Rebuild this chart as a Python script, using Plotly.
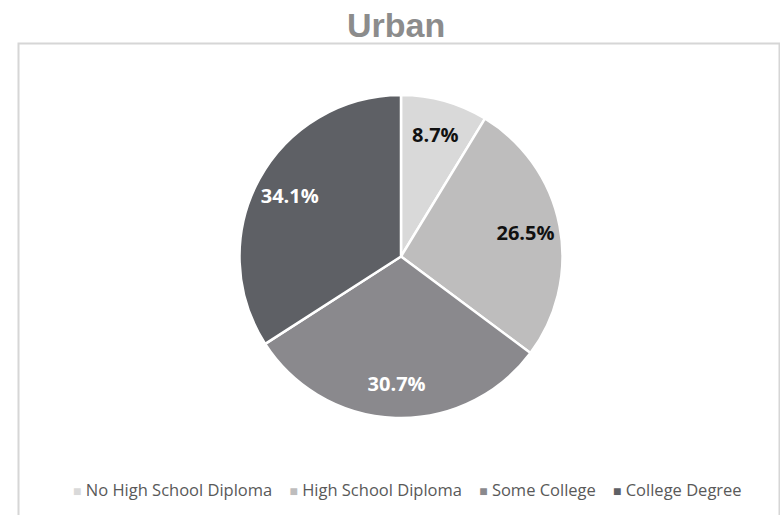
import plotly.graph_objects as go

# Education level shares, urban respondents
categories = ["No High School Diploma", "High School Diploma", "Some College", "College Degree"]
shares = [8.7, 26.5, 30.7, 34.1]
slice_colors = ["#d9d9d9", "#bebdbd", "#8a898d", "#5e6065"]
label_colors = ["#111111", "#111111", "#ffffff", "#ffffff"]

W, H = 780, 515
pie_domain = dict(x=[239 / W, 563 / W], y=[(H - 418) / H, (H - 95) / H])

fig = go.Figure()

# Filled slices
fig.add_trace(go.Pie(
    labels=categories,
    values=shares,
    sort=False,
    direction="clockwise",
    rotation=0,
    marker=dict(colors=slice_colors, line=dict(color="#ffffff", width=2.5)),
    textinfo="none",
    hoverinfo="label+percent",
    showlegend=False,
    domain=pie_domain,
))

# Same slices as a transparent ring, so the value labels sit toward the rim
fig.add_trace(go.Pie(
    labels=categories,
    values=shares,
    sort=False,
    direction="clockwise",
    rotation=0,
    hole=0.57,
    marker=dict(colors=["rgba(0,0,0,0)"] * len(shares), line=dict(width=0)),
    texttemplate="%{value:.1f}%",
    textposition="inside",
    insidetextorientation="horizontal",
    insidetextfont=dict(family="Open Sans", size=20, color=label_colors, weight="bold"),
    hoverinfo="skip",
    showlegend=False,
    domain=pie_domain,
))

# One-line legend: small swatch followed by the category name
gap = "\u00a0" * 4
legend_text = gap.join(
    f"<span style='color:{c};font-size:14px'>\u25a0</span>\u00a0{name}"
    for name, c in zip(categories, slice_colors)
)

fig.update_layout(
    width=W, height=H,
    margin=dict(l=0, r=0, t=0, b=0),
    paper_bgcolor="#ffffff",
    plot_bgcolor="#ffffff",
    showlegend=False,
    annotations=[
        dict(
            text="<b>Urban</b>",
            x=396 / W, y=1 - 25 / H, xref="paper", yref="paper",
            xanchor="center", yanchor="middle", showarrow=False,
            font=dict(family="Liberation Sans", size=34, color="#8c8c8c"),
        ),
        dict(
            text=legend_text,
            x=407 / W, y=(H - 489) / H, xref="paper", yref="paper",
            xanchor="center", yanchor="middle", showarrow=False,
            font=dict(family="Open Sans", size=16.5, color="#595959"),
        ),
    ],
    shapes=[dict(
        type="rect", xref="paper", yref="paper",
        x0=18.5 / W, x1=779.5 / W, y0=-0.02, y1=1 - 43.5 / H,
        line=dict(color="#d6d6d6", width=2),
        fillcolor="rgba(0,0,0,0)",
        layer="below",
    )],
)

fig.write_html("out.html")
